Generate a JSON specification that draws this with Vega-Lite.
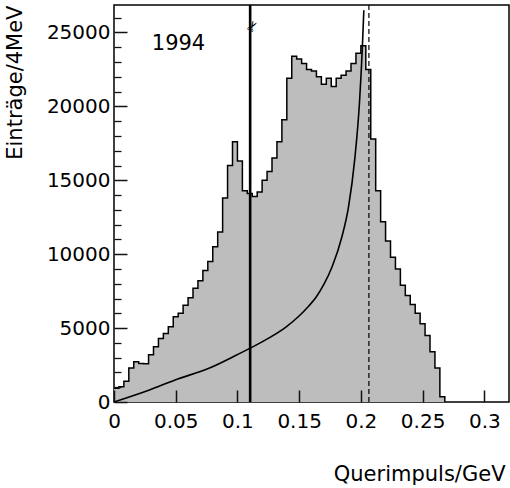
{
  "$schema": "https://vega.github.io/schema/vega-lite/v6.json",
  "width": 395,
  "height": 397,
  "autosize": {"type": "none"},
  "padding": {"left": 114, "top": 5, "right": 1, "bottom": 86},
  "background": "white",
  "config": {
    "view": {"stroke": "black", "strokeWidth": 1.5},
    "font": "DejaVu Sans",
    "axis": {"grid": false, "domain": false, "labelColor": "black", "titleColor": "black", "labelFont": "DejaVu Sans", "titleFont": "DejaVu Sans", "titleFontWeight": "normal"}
  },
  "datasets": {
    "hist": [
      {"p": 0, "n": 930}, {"p": 0.004, "n": 1030}, {"p": 0.008, "n": 1400}, {"p": 0.012, "n": 2300},
      {"p": 0.016, "n": 2720}, {"p": 0.02, "n": 2600}, {"p": 0.024, "n": 2580}, {"p": 0.028, "n": 3200},
      {"p": 0.032, "n": 3740}, {"p": 0.036, "n": 4300}, {"p": 0.04, "n": 4640}, {"p": 0.044, "n": 5090},
      {"p": 0.048, "n": 5760}, {"p": 0.052, "n": 6000}, {"p": 0.056, "n": 6550}, {"p": 0.06, "n": 7050},
      {"p": 0.064, "n": 7700}, {"p": 0.068, "n": 8200}, {"p": 0.072, "n": 8900}, {"p": 0.076, "n": 9500},
      {"p": 0.08, "n": 10500}, {"p": 0.084, "n": 11500}, {"p": 0.088, "n": 13800}, {"p": 0.092, "n": 16000},
      {"p": 0.096, "n": 17600}, {"p": 0.1, "n": 16300}, {"p": 0.104, "n": 14300}, {"p": 0.108, "n": 14100},
      {"p": 0.112, "n": 13900}, {"p": 0.116, "n": 14200}, {"p": 0.12, "n": 15000}, {"p": 0.124, "n": 15600},
      {"p": 0.128, "n": 16500}, {"p": 0.132, "n": 17600}, {"p": 0.136, "n": 19100}, {"p": 0.14, "n": 21900},
      {"p": 0.144, "n": 23400}, {"p": 0.148, "n": 23200}, {"p": 0.152, "n": 22900}, {"p": 0.156, "n": 22500},
      {"p": 0.16, "n": 22400}, {"p": 0.164, "n": 22000}, {"p": 0.168, "n": 21500}, {"p": 0.172, "n": 21900},
      {"p": 0.176, "n": 21350}, {"p": 0.18, "n": 21900}, {"p": 0.184, "n": 22100}, {"p": 0.188, "n": 22400},
      {"p": 0.192, "n": 22900}, {"p": 0.196, "n": 23600}, {"p": 0.2, "n": 24100}, {"p": 0.204, "n": 22500},
      {"p": 0.208, "n": 17800}, {"p": 0.212, "n": 14300}, {"p": 0.216, "n": 12200}, {"p": 0.22, "n": 10900},
      {"p": 0.224, "n": 9800}, {"p": 0.228, "n": 9000}, {"p": 0.232, "n": 7900}, {"p": 0.236, "n": 7200},
      {"p": 0.24, "n": 6600}, {"p": 0.244, "n": 6000}, {"p": 0.248, "n": 5300}, {"p": 0.252, "n": 4500},
      {"p": 0.256, "n": 3400}, {"p": 0.26, "n": 2300}, {"p": 0.264, "n": 360}, {"p": 0.268, "n": 0}
    ],
    "curve": [
      {"p": 0, "n": 0}, {"p": 0.0287, "n": 810}, {"p": 0.0495, "n": 1490}, {"p": 0.0774, "n": 2300},
      {"p": 0.0993, "n": 3180}, {"p": 0.1228, "n": 4200}, {"p": 0.139, "n": 5050}, {"p": 0.1497, "n": 5800},
      {"p": 0.1578, "n": 6500}, {"p": 0.1634, "n": 7050}, {"p": 0.17, "n": 7950}, {"p": 0.1767, "n": 9150},
      {"p": 0.1847, "n": 11200}, {"p": 0.19, "n": 13200}, {"p": 0.195, "n": 16400}, {"p": 0.1989, "n": 20300},
      {"p": 0.2012, "n": 24000}, {"p": 0.2024, "n": 26500}
    ]
  },
  "layer": [
    {
      "data": {"name": "hist"},
      "mark": {"type": "area", "interpolate": "step-after", "color": "#bdbdbd"},
      "encoding": {
        "x": {
          "field": "p", "type": "quantitative",
          "scale": {"domain": [0, 0.32], "nice": false, "zero": false},
          "axis": {
            "orient": "bottom", "ticks": true, "tickSize": -12, "tickWidth": 1.5, "tickColor": "#111111", "zindex": 1,
            "values": [0, 0.05, 0.1, 0.15, 0.2, 0.25, 0.3], "format": "~g",
            "labelPadding": 21, "labelFontSize": 20,
            "labelFlush": false, "labelOverlap": false,
            "title": "Querimpuls/GeV", "titleFontSize": 21, "titleAnchor": "end", "titleAlign": "right",
            "titleBaseline": "alphabetic", "titleX": 391, "titleY": 78
          }
        },
        "y": {
          "field": "n", "type": "quantitative",
          "scale": {"domain": [0, 26860], "nice": false},
          "axis": {
            "orient": "left", "ticks": true, "tickSize": -13, "tickWidth": 1.5, "tickColor": "#111111", "zindex": 1,
            "values": [0, 5000, 10000, 15000, 20000, 25000], "format": "d",
            "labelPadding": 17, "labelFontSize": 20,
            "labelFlush": false, "labelOverlap": false,
            "title": "Einträge/4MeV", "titleFontSize": 21, "titleAngle": -90, "titleAlign": "right",
            "titleBaseline": "alphabetic", "titleX": -93, "titleY": 0
          }
        }
      }
    },
    {
      "data": {"name": "hist"},
      "mark": {"type": "line", "interpolate": "step-after", "color": "black", "strokeWidth": 1.5},
      "encoding": {
        "x": {"field": "p", "type": "quantitative", "axis": null},
        "y": {"field": "n", "type": "quantitative", "axis": null}
      }
    },
    {
      "data": {"name": "curve"},
      "mark": {"type": "line", "interpolate": "monotone", "color": "black", "strokeWidth": 1.6},
      "encoding": {
        "x": {"field": "p", "type": "quantitative", "axis": null},
        "y": {
          "field": "n", "type": "quantitative",
          "axis": {"orient": "left", "zindex": 1, "values": [1000, 2000, 3000, 4000, 6000, 7000, 8000, 9000, 11000, 12000, 13000, 14000, 16000, 17000, 18000, 19000, 21000, 22000, 23000, 24000, 26000], "tickSize": -7, "tickWidth": 1.3, "tickColor": "#111111", "labels": false, "title": null}
        }
      }
    },
    {
      "data": {"values": [{}]},
      "mark": {"type": "rule", "color": "black", "strokeWidth": 2.6},
      "encoding": {"x": {"datum": 0.1103, "type": "quantitative", "axis": null}}
    },
    {
      "data": {"values": [{}]},
      "mark": {"type": "rule", "color": "black", "strokeWidth": 1.2, "strokeDash": [5, 3]},
      "encoding": {"x": {"datum": 0.2065, "type": "quantitative", "axis": null}}
    },
    {
      "data": {"values": [{}]},
      "mark": {"type": "text", "text": "1994", "fontSize": 21, "align": "left", "baseline": "alphabetic", "font": "DejaVu Sans", "color": "black"},
      "encoding": {
        "x": {"datum": 0.0306, "type": "quantitative", "axis": null},
        "y": {"datum": 23800, "type": "quantitative", "axis": null}
      }
    },
    {
      "data": {"values": [{}]},
      "mark": {"type": "text", "text": "✂", "fontSize": 14, "align": "center", "baseline": "middle", "font": "DejaVu Sans", "color": "black", "angle": 300},
      "encoding": {
        "x": {"datum": 0.1128, "type": "quantitative", "axis": null},
        "y": {"datum": 25400, "type": "quantitative", "axis": null}
      }
    }
  ],
  "resolve": {"axis": {"x": "independent", "y": "independent"}}
}
